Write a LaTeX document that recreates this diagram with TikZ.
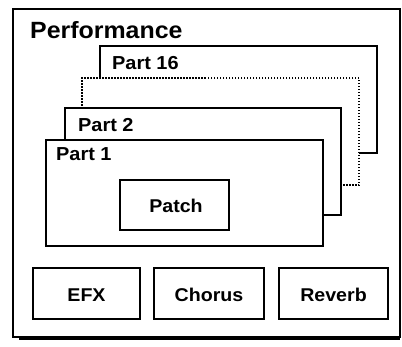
\documentclass[tikz,border=0pt]{standalone}
\usepackage{fontspec}
\setmainfont{Liberation Sans}
\newcommand{\wtxt}[1]{\scalebox{1.06}[1]{#1}}
\begin{document}
\begin{tikzpicture}[x=1pt,y=-1pt,
  box/.style={draw=black,line width=1.3pt,fill=white,rectangle,inner sep=0pt,outer sep=0pt,anchor=north west},
  dotbox/.style={box,dash pattern=on 1.5pt off 1.5pt},
  lbl/.style={inner sep=0pt,anchor=base west,font=\fontsize{18.8}{21}\selectfont\bfseries},
  clbl/.style={inner sep=0pt,anchor=base,font=\fontsize{18.5}{21}\selectfont\bfseries}]
\useasboundingbox (0,0) rectangle (402,346);
% outer performance frame
\node[box,minimum width=387pt,minimum height=328pt] (perf) at (13,9) {};
\draw[line width=3pt] (perf.south west) ++(6,1) coordinate (bl) -- (perf.south east |- bl) coordinate (br);
\node[lbl,font=\fontsize{23.5}{26}\selectfont\bfseries] (perft) at (30,38) {\wtxt{Performance}};
% parts, back to front
\node[box,minimum width=277pt,minimum height=107pt] (p16) at (100,46) {};
\node[lbl] (p16t) at (112,69) {\wtxt{Part 16}};
\node[dotbox,minimum width=277pt,minimum height=107pt] (pdots) at (82,78) {};
\node[box,minimum width=276pt,minimum height=107pt] (p2) at (65,108) {};
\node[lbl] (p2t) at (78,131) {\wtxt{Part 2}};
\node[box,minimum width=277pt,minimum height=106pt] (p1) at (46,140) {};
\node[lbl] (p1t) at (56,160) {\wtxt{Part 1}};
% patch
\node[box,minimum width=109pt,minimum height=50pt] (patch) at (120,180) {};
\node[clbl] (patcht) at (176,212) {\wtxt{Patch}};
% effects
\node[box,minimum width=107pt,minimum height=51pt] (efx) at (33,268) {};
\node[clbl] (efxt) at (efx.center |- 0,301) {\wtxt{EFX}};
\node[box,minimum width=110pt,minimum height=51pt] (chorus) at (154,268) {};
\node[clbl] (chorust) at (chorus.center |- 0,301) {\wtxt{Chorus}};
\node[box,minimum width=109pt,minimum height=51pt] (reverb) at (279,268) {};
\node[clbl] (reverbt) at (reverb.center |- 0,301) {\wtxt{Reverb}};
\end{tikzpicture}
\end{document}
